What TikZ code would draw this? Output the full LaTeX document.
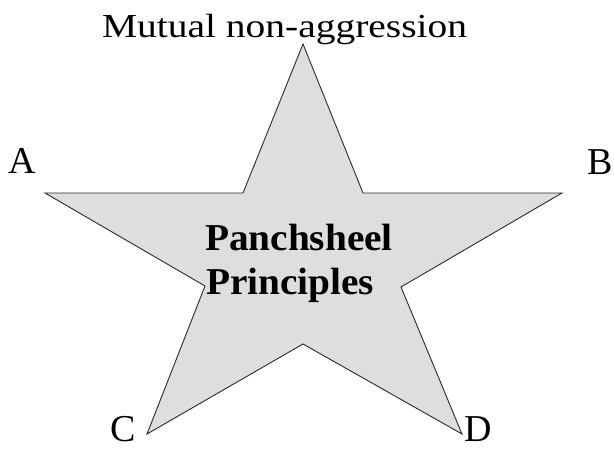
\documentclass[tikz,border=0pt]{standalone}
\usepackage{fontspec}
\setmainfont{Liberation Serif}
\usepackage{graphicx}
\definecolor{starfill}{HTML}{DEDEDE}
\definecolor{starline}{HTML}{2A2A2A}
\tikzset{
  starshape/.style={draw=starline, fill=starfill, line width=0.9pt, line join=miter},
  lbl/.style={inner sep=0pt, outer sep=0pt, anchor=base west, font=\fontsize{38}{44}\selectfont},
  toplbl/.style={inner sep=0pt, outer sep=0pt, anchor=base west, font=\fontsize{33.6}{40}\selectfont},
  centerlbl/.style={inner sep=0pt, outer sep=0pt, anchor=base west, font=\bfseries\fontsize{38}{44}\selectfont}
}
\begin{document}
\begin{tikzpicture}[x=1pt,y=-1pt]
\useasboundingbox (0,0) rectangle (614,450);
\coordinate (t) at (303,44);
\coordinate (iul) at (243,193);
\coordinate (lt) at (45,193);
\coordinate (ill) at (205,286);
\coordinate (blt) at (147,434);
\coordinate (ib) at (303,344);
\coordinate (brt) at (462,434);
\coordinate (ilr) at (401,287);
\coordinate (rt) at (562,193);
\coordinate (iur) at (363,193);
\draw[starshape] (t) -- (iul) -- (lt) -- (ill) -- (blt) -- (ib) -- (brt) -- (ilr) -- (rt) -- (iur) -- cycle;
\node[toplbl] (top) at (102,37.3) {\scalebox{1.175}[1]{Mutual non-aggression}};
\node[lbl] (a) at (9,173.5) {A};
\node[lbl] (b) at (587,174) {B};
\node[lbl] (c) at (110,441) {C};
\node[lbl] (d) at (464,441) {D};
\node[centerlbl] (p1) at (205,250) {\scalebox{1.035}[1]{Panchsheel}};
\node[centerlbl] (p2) at (206,294) {\scalebox{1.035}[1]{Principles}};
\end{tikzpicture}
\end{document}
